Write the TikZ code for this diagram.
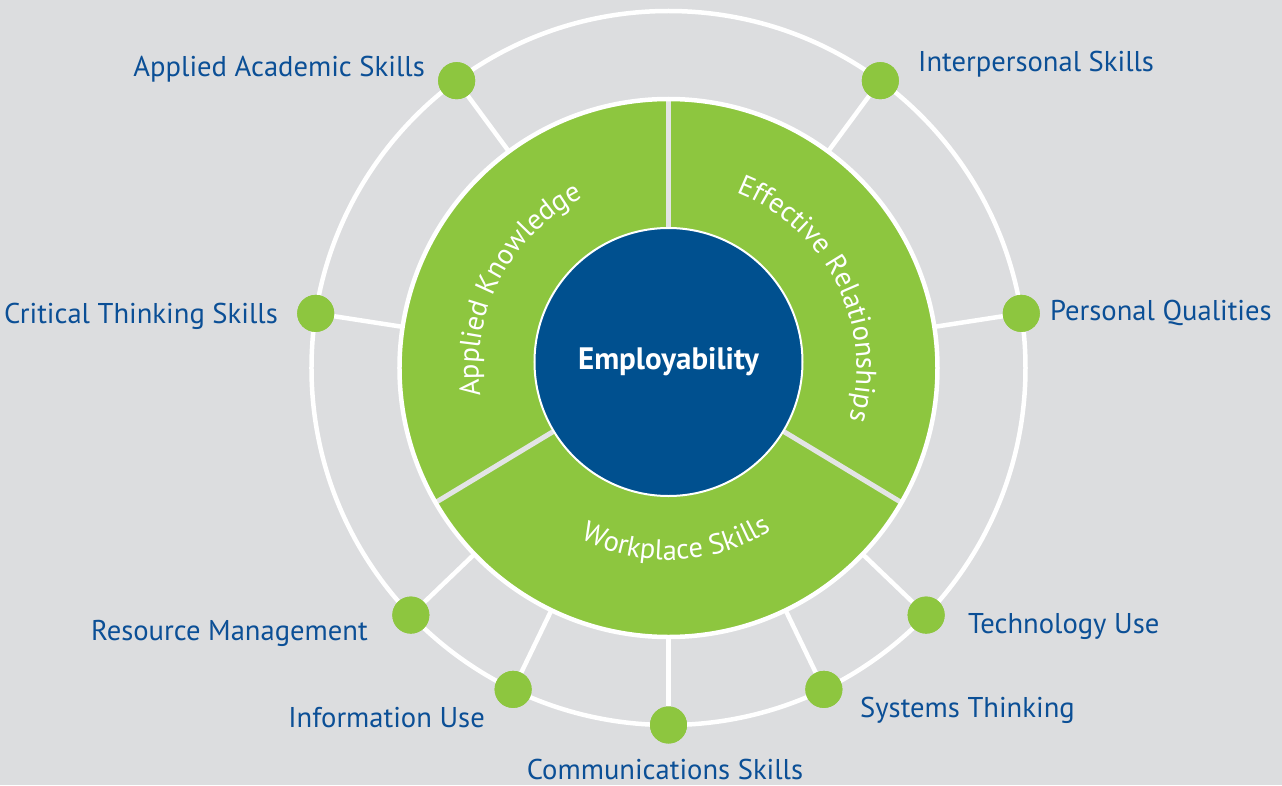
\documentclass[tikz,border=0pt]{standalone}
\usepackage{fontspec}
\setmainfont{PT Sans}
\usetikzlibrary{decorations.text}
\definecolor{bg}{HTML}{DCDDDF}
\definecolor{lime}{HTML}{8DC63F}
\definecolor{navy}{HTML}{00508F}
\definecolor{txtblue}{HTML}{0B4F96}
\definecolor{divgray}{HTML}{E3E4E5}
\newcommand\ringfont{\fontsize{28.5}{28.5}\selectfont}
\begin{document}
\begin{tikzpicture}[x=1pt,y=1pt,
  lbl/.style={text=txtblue, font=\fontsize{28.6}{28.6}\selectfont, inner sep=0pt, text depth=0pt},
  dot/.style={circle, fill=lime, minimum size=37pt, inner sep=0pt},
  spoke/.style={white, line width=4.5pt},
  divider/.style={divgray, line width=5pt},
  ringtext/.style={decorate, decoration={text along path, text align=center, text color=white, text={|\ringfont|#1}}}]
\fill[bg] (-668.5,-417) rectangle (613.5,368);
\useasboundingbox (-668.5,-417) rectangle (613.5,368);
\coordinate (c) at (0,0);
% outer circle
\draw[white, line width=4.5pt] (c) circle[radius=357pt];
% dots
\node[dot] (d1) at (126.4:357pt) {};
\node[dot] (d2) at (53.6:357pt) {};
\node[dot] (d3) at (171.2:357pt) {};
\node[dot] (d4) at (8.8:357pt) {};
\node[dot] (d5) at (223.8:357pt) {};
\node[dot] (d6) at (244.2:357pt) {};
\node[dot] (d7) at (270:357pt) {};
\node[dot] (d8) at (295.8:357pt) {};
\node[dot] (d9) at (316.2:357pt) {};
% spoke start points on ring
\foreach \a/\n in {126.4/1,53.6/2,171.2/3,8.8/4,223.8/5,244.2/6,270/7,295.8/8,316.2/9}
  \coordinate (s\n) at (\a:268pt);
\foreach \n in {1,...,9} \draw[spoke] (s\n) -- (d\n);
% green ring
\fill[lime] (c) circle[radius=269pt];
\node[circle, minimum size=268pt, inner sep=0pt] (emp) at (0,6) {};
\foreach \a/\n in {90/1,210/2,330/3} {
  \coordinate (r\n) at (\a:267pt);
  \draw[divider] (emp) -- (r\n);
}
\draw[white, line width=4.5pt] (c) circle[radius=269pt];
\node[circle, fill=navy, draw=white, line width=2pt, minimum size=268pt, inner sep=0pt,
  text=white, font=\bfseries\fontsize{31}{31}\selectfont] at (emp) {Employability};
% ring texts
\path[ringtext={Applied Knowledge}] (216:190pt) arc[start angle=216, end angle=89, radius=190pt];
\path[ringtext={Effective Relationships}] (91:188pt) arc[start angle=91, end angle=-38, radius=188pt];
\path[ringtext={Workplace Skills}] (230:192pt) arc[start angle=230, end angle=315, radius=192pt];
% redraw dots on top
\foreach \n in {1,...,9} \node[dot] at (d\n) {};
% labels
\node[lbl, anchor=base east] (l1) at (-243.5,291) {Applied Academic Skills};
\node[lbl, anchor=base west] (l2) at (249.5,296) {Interpersonal Skills};
\node[lbl, anchor=base east] (l3) at (-390.5,45) {Critical Thinking Skills};
\node[lbl, anchor=base west] (l4) at (381.5,48) {Personal Qualities};
\node[lbl, anchor=base east] (l5) at (-300.5,-272) {Resource Management};
\node[lbl, anchor=base west] (l9) at (299.5,-265) {Technology Use};
\node[lbl, anchor=base east] (l6) at (-183.5,-359) {Information Use};
\node[lbl, anchor=base west] (l8) at (191.5,-349) {Systems Thinking};
\node[lbl, anchor=base] (l7) at (-3.5,-411) {Communications Skills};
\end{tikzpicture}
\end{document}
